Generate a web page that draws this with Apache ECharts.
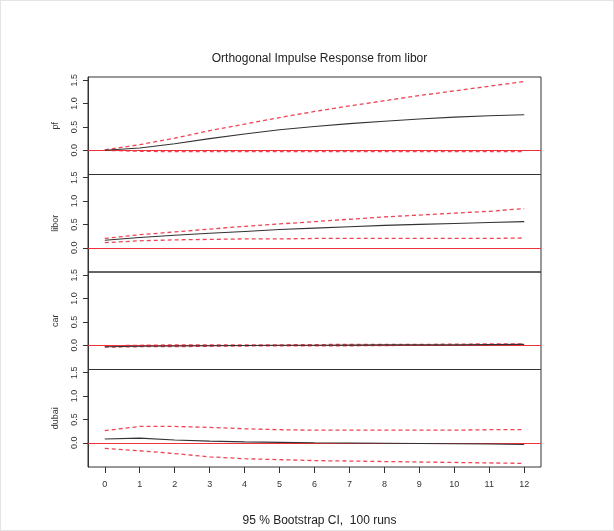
<!DOCTYPE html>
<html><head><meta charset="utf-8">
<script src="https://cdn.jsdelivr.net/npm/echarts@6/dist/echarts.min.js"></script>
<style>html,body{margin:0;padding:0;background:#fff}#c{width:614px;height:531px;box-sizing:border-box;border:1px solid #e4e4e4}</style>
</head><body><div id="c"></div>
<script>
var steps = [0,1,2,3,4,5,6,7,8,9,10,11,12];
var panelNames = ['pf','libor','car','dubai'];
var yTicks = [0, 0.5, 1, 1.5];
var xTicks = [0,1,2,3,4,5,6,7,8,9,10,11,12];

var pfIrf   = [0.00,0.05,0.14,0.25,0.35,0.44,0.51,0.57,0.62,0.67,0.71,0.74,0.76];
var pfUpper = [0.01,0.12,0.26,0.42,0.56,0.70,0.83,0.95,1.06,1.17,1.27,1.37,1.47];
var pfLower = [0.00,-0.02,-0.03,-0.03,-0.03,-0.03,-0.03,-0.03,-0.03,-0.03,-0.03,-0.03,-0.03];

var liborIrf   = [0.16,0.22,0.27,0.31,0.35,0.39,0.42,0.45,0.48,0.50,0.52,0.54,0.56];
var liborUpper = [0.20,0.28,0.34,0.40,0.46,0.51,0.56,0.61,0.66,0.70,0.74,0.78,0.84];
var liborLower = [0.11,0.15,0.17,0.18,0.19,0.19,0.20,0.20,0.20,0.20,0.20,0.20,0.21];

var carIrf   = [-0.03,-0.02,-0.015,-0.01,-0.005,0,0,0.005,0.01,0.01,0.01,0.015,0.02];
var carUpper = [-0.01,0.00,0.01,0.01,0.01,0.01,0.015,0.02,0.02,0.02,0.025,0.03,0.03];
var carLower = [-0.04,-0.03,-0.03,-0.02,-0.015,-0.01,-0.01,-0.01,-0.005,0,0,0,0];

var dubaiIrf   = [0.08,0.10,0.06,0.035,0.02,0.01,0.0,-0.005,-0.01,-0.015,-0.02,-0.025,-0.035];
var dubaiUpper = [0.26,0.35,0.35,0.33,0.30,0.28,0.27,0.27,0.27,0.27,0.27,0.28,0.28];
var dubaiLower = [-0.12,-0.17,-0.23,-0.30,-0.34,-0.36,-0.38,-0.39,-0.40,-0.41,-0.42,-0.43,-0.44];

var irfs = [pfIrf, liborIrf, carIrf, dubaiIrf];
var uppers = [pfUpper, liborUpper, carUpper, dubaiUpper];
var lowers = [pfLower, liborLower, carLower, dubaiLower];

var FONT = 'Liberation Sans, Arial, sans-serif';
var RED = '#f0303a';
var DASHRED = '#ee4455';
var gridTop = 76, panelH = 97.5;

function pairs(arr){ return steps.map(function(s,i){ return [s, arr[i]]; }); }

var grids = [], xAxes = [], yAxes = [], series = [];
for (var p = 0; p < 4; p++) {
  grids.push({left: 87, width: 453, top: gridTop + p*panelH, height: panelH,
    show: true, borderColor: '#333', borderWidth: 1, backgroundColor: 'transparent'});
  var last = p === 3;
  xAxes.push({type: 'value', gridIndex: p, min: -0.48, max: 12.48, position: 'bottom',
    splitLine: {show: false},
    axisLine: {show: false, onZero: false},
    axisTick: {show: last, inside: false, customValues: xTicks, length: 6, lineStyle: {color: '#333'}},
    axisLabel: {show: last, customValues: xTicks, margin: 13, fontSize: 9, color: '#333', fontFamily: FONT}
  });
  yAxes.push({type: 'value', gridIndex: p, min: -0.517, max: 1.567, position: 'left',
    name: panelNames[p], nameLocation: 'middle', nameRotate: 90, nameGap: 28,
    nameTextStyle: {fontSize: 9, color: '#333', fontFamily: FONT},
    splitLine: {show: false},
    axisLine: {show: true, onZero: false, lineStyle: {color: '#333'}},
    axisTick: {show: true, inside: false, customValues: yTicks, length: 5, lineStyle: {color: '#333'}},
    axisLabel: {customValues: yTicks, rotate: 90, margin: 9, fontSize: 9, color: '#333', fontFamily: FONT,
      formatter: function(v){ return v.toFixed(1); }}
  });
  series.push({type: 'line', xAxisIndex: p, yAxisIndex: p, data: pairs(irfs[p]), symbol: 'none',
    lineStyle: {color: '#333', width: 1.1}, z: 5,
    markLine: {silent: true, symbol: 'none', label: {show: false},
      lineStyle: {color: RED, type: 'solid', width: 1}, data: [{yAxis: 0}]}});
  series.push({type: 'line', xAxisIndex: p, yAxisIndex: p, data: pairs(uppers[p]), symbol: 'none',
    lineStyle: {color: DASHRED, width: 1.3, type: [4, 3]}, z: 4});
  series.push({type: 'line', xAxisIndex: p, yAxisIndex: p, data: pairs(lowers[p]), symbol: 'none',
    lineStyle: {color: DASHRED, width: 1.3, type: [4, 3]}, z: 4});
}

var chart = echarts.init(document.getElementById('c'), null, {renderer: 'canvas'});
chart.setOption({
  animation: false,
  title: [
    {text: 'Orthogonal Impulse Response from libor', left: 313.5, top: 47, textAlign: 'center',
      textStyle: {fontSize: 12, fontWeight: 'normal', color: '#222', fontFamily: FONT}},
    {text: '95 % Bootstrap CI,  100 runs', left: 313.5, top: 509, textAlign: 'center',
      textStyle: {fontSize: 12, fontWeight: 'normal', color: '#222', fontFamily: FONT}}
  ],
  grid: grids, xAxis: xAxes, yAxis: yAxes, series: series
});
</script></body></html>
